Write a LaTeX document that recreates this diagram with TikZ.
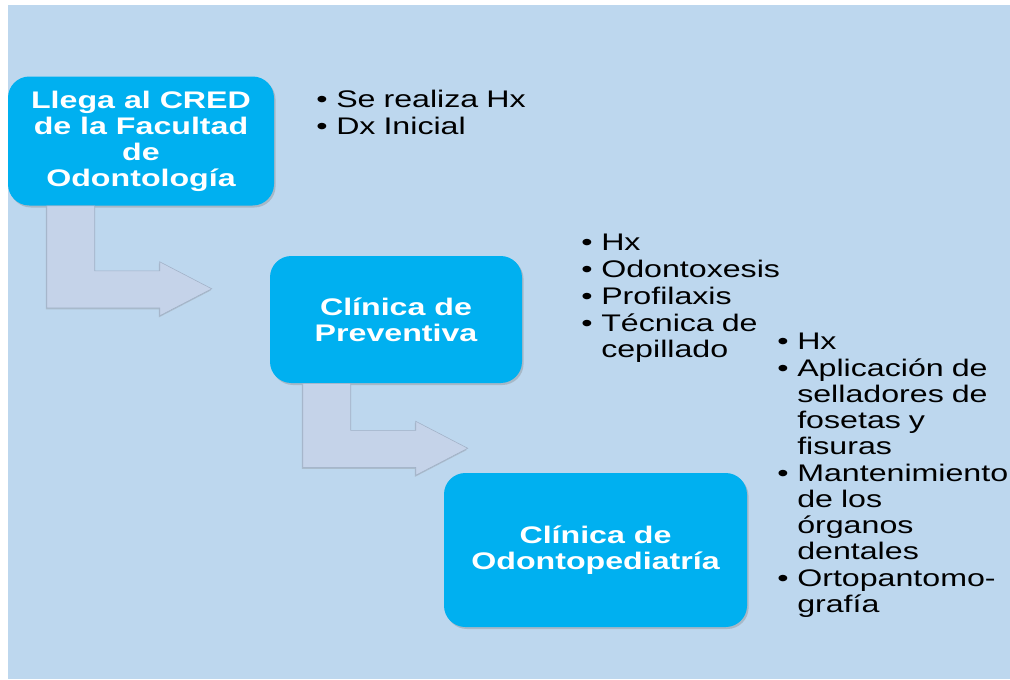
\documentclass[tikz,border=0pt]{standalone}
\usepackage{fontspec}
\setmainfont{Liberation Sans}[FakeStretch=1.34]
\usetikzlibrary{positioning,calc,shadows}
\definecolor{fondo}{RGB}{189,215,238}
\definecolor{cajaazul}{RGB}{0,176,240}
\definecolor{flechagris}{RGB}{197,211,233}
\definecolor{bordegris}{RGB}{160,176,198}

% bullet list used beside the boxes
\newenvironment{puntos}{\begin{list}{\textbullet}{\setlength{\leftmargin}{15pt}\setlength{\labelwidth}{8.5pt}\setlength{\labelsep}{6.5pt}\setlength{\itemsep}{0.8pt}\setlength{\parsep}{0pt}\setlength{\topsep}{0pt}\setlength{\partopsep}{0pt}}\raggedright}{\end{list}}

% bent block arrow: #1 start coordinate, #2 length of the vertical part
\newcommand{\flechaL}[2]{%
  \fill[flecha] (#1) -- ++(48,0) -- ++(0,{#2-37}) -- ++(65,0) -- ++(0,-9) -- ++(52,27) -- ++(-52,27) -- ++(0,-8) -- ++(-113,0) -- cycle;}

\begin{document}
\begin{tikzpicture}[
    x=0.75pt,y=-0.75pt,
    caja/.style={fill=cajaazul,text=white,rounded corners=16pt,align=center,inner sep=0pt,
      font=\fontsize{18}{19.5}\selectfont\bfseries,
      drop shadow={shadow xshift=1.2pt,shadow yshift=-1.5pt,opacity=0.35}},
    lista/.style={anchor=north west,inner sep=0pt,text width=200pt,font=\fontsize{18}{19.5}\selectfont},
    flecha/.style={fill=flechagris,draw=bordegris,line width=0.4pt,
      drop shadow={shadow xshift=-0.6pt,shadow yshift=-1.2pt,opacity=0.3}}
]
\useasboundingbox (0,0) rectangle (1010,679);

% Background
\fill[white] (0,0) rectangle (1010,679);
\fill[fondo] (8,5) rectangle (1010,679);

% Boxes
\node[caja,minimum width=199.5pt,minimum height=96.75pt] (llega) at (141,141) {Llega al CRED\\de la Facultad\\de\\Odontología};
\node[caja,minimum width=189pt,minimum height=95.25pt] (preventiva) at (396,319.5) {Clínica de\\Preventiva};
\node[caja,minimum width=227.25pt,minimum height=115.5pt] (odontoped) at (595.5,550) {Clínica de\\Odontopediatría};

% Arrows
\coordinate (f1) at ($(llega.south west)+(39,0)$);
\coordinate (f2) at ($(preventiva.south west)+(33,0)$);
\flechaL{f1}{102}
\flechaL{f2}{84}

% Lists
\node[lista] (lista1) at (316,81) {\begin{puntos}
  \item Se realiza Hx
  \item Dx Inicial
\end{puntos}};
\node[lista] (lista2) at (581,224) {\begin{puntos}
  \item Hx
  \item Odontoxesis
  \item Profilaxis
  \item Técnica de\\cepillado
\end{puntos}};
\node[lista] (lista3) at (777,323) {\begin{puntos}
  \item Hx
  \item Aplicación de\\selladores de\\fosetas y\\fisuras
  \item Mantenimiento\\de los\\órganos\\dentales
  \item Ortopantomo-\\grafía
\end{puntos}};

\end{tikzpicture}
\end{document}
